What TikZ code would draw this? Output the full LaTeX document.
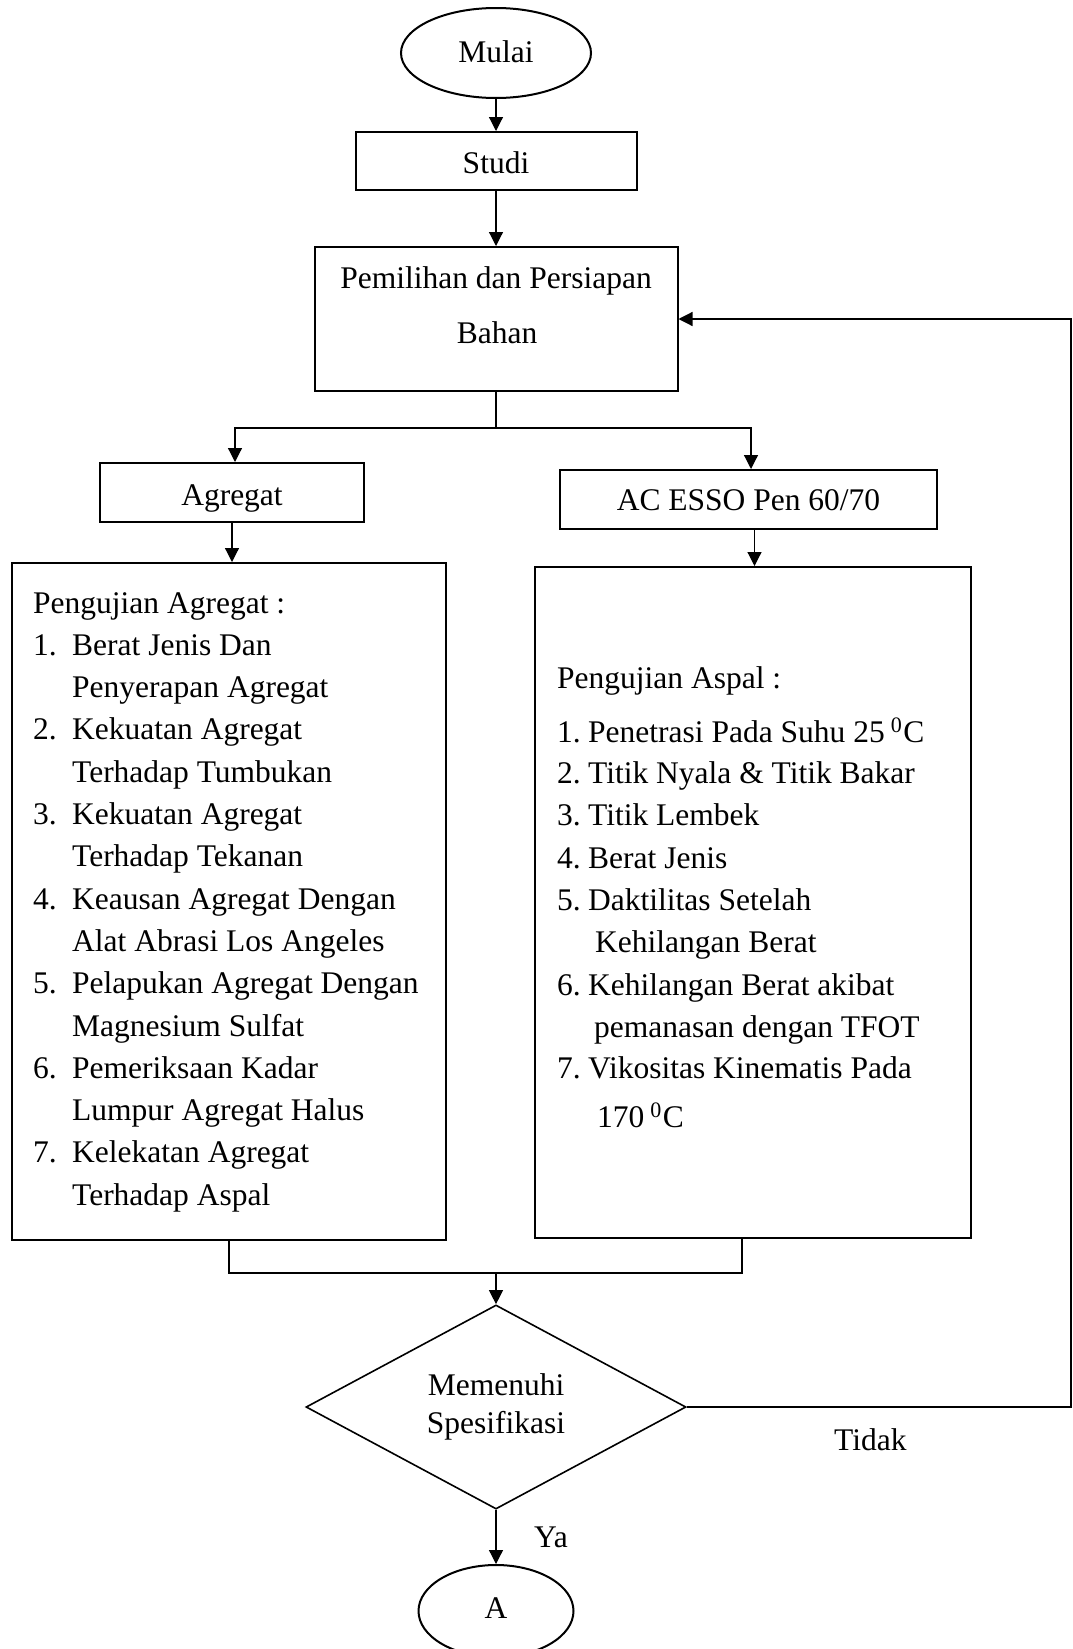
\documentclass[tikz,border=0pt]{standalone}
\usepackage{fontspec}
\setmainfont{Liberation Serif}
\usetikzlibrary{shapes.geometric,arrows.meta}
\newcommand{\itemnum}[2]{\makebox[#1][l]{#2}}
\newcommand{\degsup}{\hspace{6pt}\textsuperscript{0}\hspace{1pt}}
\begin{document}
\begin{tikzpicture}[x=1pt,y=-1pt,
  every node/.style={font=\fontsize{31.5}{42.3}\selectfont},
  box/.style={draw,line width=2pt,rectangle,inner sep=0pt,text depth=0pt},
  term/.style={draw,line width=2pt,ellipse,inner sep=0pt,text depth=0pt},
  dec/.style={draw,line width=1.6pt,diamond,inner sep=0pt,align=center},
  conn/.style={line width=1.2pt},
  arr/.style={conn,-{Triangle[length=14pt,width=14pt]}},
  txt/.style={anchor=base west,inner sep=0pt},
]
\clip (0,0) rectangle (1073,1649);

% main flow
\node[term,minimum width=190pt,minimum height=90pt,text height=18pt] (mulai) at (496,53) {Mulai};
\node[box,minimum width=281pt,minimum height=58pt,text height=24pt] (studi) at (496,161) {Studi};
\node[box,minimum width=363pt,minimum height=144pt] (bahan) at (496,319) {};
\node[anchor=base,inner sep=0pt] (bahan1) at (496,288) {Pemilihan dan Persiapan};
\node[anchor=base,inner sep=0pt] (bahan2) at (497,343) {Bahan};

\node[box,minimum width=264pt,minimum height=59pt,text height=25pt] (agg) at (232,492.5) {Agregat};
\node[box,minimum width=377pt,minimum height=59pt,text height=21pt] (ac) at (748.5,499.5) {AC ESSO Pen 60/70};

\node[box,minimum width=434pt,minimum height=677pt] (lbox) at (229,901.5) {};
\node[box,minimum width=436pt,minimum height=671pt] (rbox) at (753,902.5) {};

\node[dec,minimum width=380pt,minimum height=191pt] (spec) at (496,1407) {Memenuhi\\[-5pt]Spesifikasi};
\node[term,minimum width=155pt,minimum height=92pt,text height=14pt] (akhir) at (496,1611) {A};

\node[txt] (tidak) at (834,1450) {Tidak};
\node[txt] (ya) at (534,1547) {Ya};

% left box text
\foreach \xx/\yy/\s [count=\i] in {
  33/613/Pengujian Agregat :,
  33/655.3/\itemnum{39pt}{1.}Berat Jenis Dan,
  72/697.6/Penyerapan Agregat,
  33/739.9/\itemnum{39pt}{2.}Kekuatan Agregat,
  72/782.2/Terhadap Tumbukan,
  33/824.5/\itemnum{39pt}{3.}Kekuatan Agregat,
  72/866.8/Terhadap Tekanan,
  33/909.1/\itemnum{39pt}{4.}Keausan Agregat Dengan,
  72/951.4/Alat Abrasi Los Angeles,
  33/993.7/\itemnum{39pt}{5.}Pelapukan Agregat Dengan,
  72/1036/Magnesium Sulfat,
  33/1078.3/\itemnum{39pt}{6.}Pemeriksaan Kadar,
  72/1120.6/Lumpur Agregat Halus,
  33/1162.9/\itemnum{39pt}{7.}Kelekatan Agregat,
  72/1205.2/Terhadap Aspal}
  \node[txt] (lt\i) at (\xx,\yy) {\s};

% right box text
\foreach \xx/\yy/\s [count=\i] in {
  557/688/Pengujian Aspal :,
  557/742/\itemnum{31pt}{1.}Penetrasi Pada Suhu 25\degsup C,
  557/783/\itemnum{31pt}{2.}Titik Nyala \& Titik Bakar,
  557/825/\itemnum{31pt}{3.}Titik Lembek,
  557/868/\itemnum{31pt}{4.}Berat Jenis,
  557/910/\itemnum{31pt}{5.}Daktilitas Setelah,
  595/952/Kehilangan Berat,
  557/995/\itemnum{31pt}{6.}Kehilangan Berat akibat,
  594/1037/pemanasan dengan TFOT,
  557/1078/\itemnum{31pt}{7.}Vikositas Kinematis Pada,
  597/1127/170\degsup C}
  \node[txt] (rt\i) at (\xx,\yy) {\s};

% connectors
\coordinate (sp) at (496,428);
\coordinate (mg) at (496,1273);
\coordinate (loop) at (1071,1407);

\draw[arr] (mulai) -- (studi);
\draw[arr] (studi) -- (bahan);
\draw[conn] (bahan.south) -- (sp);
\draw[arr] (sp) -| ([xshift=3pt]agg.north);
\draw[arr] (sp) -| ([xshift=2.5pt]ac.north);
\draw[arr] (agg.south) -- (agg.south |- lbox.north);
\draw[arr] ([xshift=6pt]ac.south) -- ([xshift=6pt]ac.south |- rbox.north);
\draw[conn] (lbox.south) |- (mg) -| ([xshift=-11pt]rbox.south);
\draw[arr] (mg) -- (spec);
\draw[arr] (spec.east) -- (loop) |- (bahan.east);
\draw[arr] (spec) -- (akhir);
\end{tikzpicture}
\end{document}
